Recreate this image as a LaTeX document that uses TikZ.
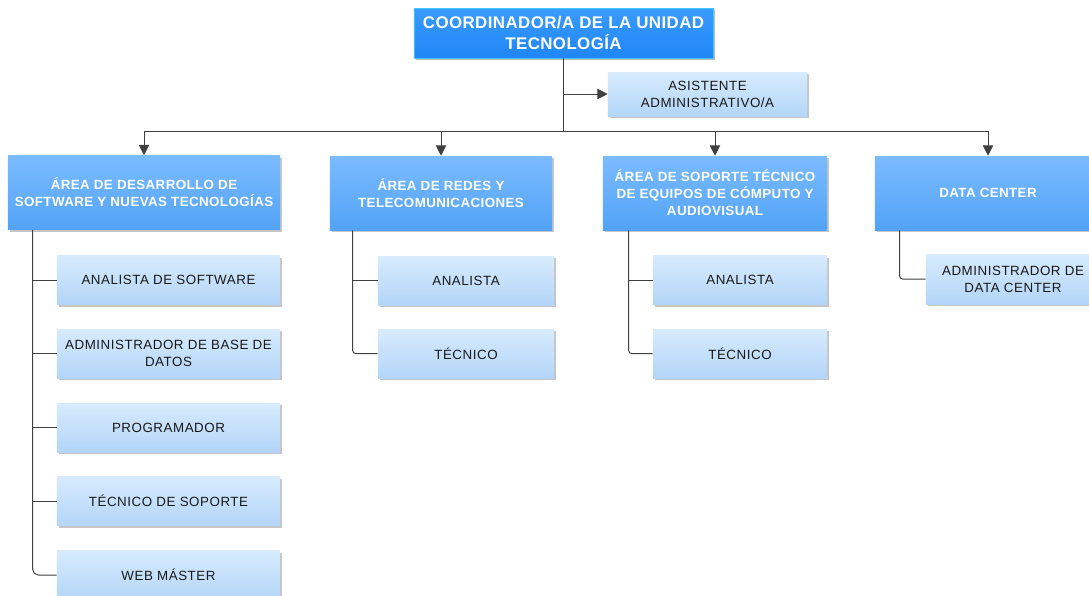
\documentclass[tikz,border=0pt]{standalone}
\usepackage{fontspec}
\setmainfont{Liberation Sans}
\usepackage{tikz}
\usetikzlibrary{arrows.meta, positioning, shadows}

\definecolor{bossTop}{HTML}{3A9BFF}
\definecolor{bossBot}{HTML}{1F86F5}
\definecolor{bossLine}{HTML}{3CC8FF}
\definecolor{areaTop}{HTML}{7BBBFF}
\definecolor{areaBot}{HTML}{52A3F7}
\definecolor{staffTop}{HTML}{D7EBFD}
\definecolor{staffBot}{HTML}{B3D5F8}
\definecolor{lineGray}{HTML}{404040}

\begin{document}
\begin{tikzpicture}[x=0.025cm, y=-0.025cm,
  boss/.style={rectangle, draw=bossLine, top color=bossTop, bottom color=bossBot, minimum width=7.475cm, minimum height=1.25cm, align=center, text=white, font=\fontsize{12}{15.5}\selectfont\bfseries\addfontfeature{LetterSpace=2.5}, drop shadow={shadow xshift=1.6pt, shadow yshift=-1.6pt, fill=black!45, opacity=0.6}},
  area/.style={rectangle, draw=none, top color=areaTop, bottom color=areaBot, minimum height=1.85cm, align=center, text=white, font=\fontsize{9.5}{12}\selectfont\bfseries\addfontfeature{LetterSpace=3}, drop shadow={shadow xshift=1.6pt, shadow yshift=-1.6pt, fill=black!45, opacity=0.5}},
  staff/.style={rectangle, draw=none, top color=staffTop, bottom color=staffBot, minimum height=1.225cm, align=center, text=black!90, font=\fontsize{9.5}{12}\selectfont\addfontfeature{LetterSpace=4}, drop shadow={shadow xshift=1.6pt, shadow yshift=-1.6pt, fill=black!45, opacity=0.5}},
  line/.style={draw=lineGray, line width=0.7pt},
  arr/.style={line, -{Triangle[length=2.6mm, width=2.6mm]}},
]
\useasboundingbox (0,0) rectangle (1089,595);
\clip (0,0) rectangle (1089,595);

% === Top: coordinator and assistant ===
\node[boss] (coord) at (563.5,33) {COORDINADOR/A DE LA UNIDAD\\TECNOLOGÍA};
\node[staff, minimum width=4.975cm, minimum height=1.1cm] (asist) at (707.5,94) {ASISTENTE\\ADMINISTRATIVO/A};

% === Areas ===
\node[area, minimum width=6.8cm] (dev) at (144,192.5) {ÁREA DE DESARROLLO DE\\SOFTWARE Y NUEVAS TECNOLOGÍAS};
\node[area, minimum width=5.55cm] (net) at (441,193) {ÁREA DE REDES Y\\TELECOMUNICACIONES};
\node[area, minimum width=5.6cm] (sup) at (715,193) {ÁREA DE SOPORTE TÉCNICO\\DE EQUIPOS DE CÓMPUTO Y\\AUDIOVISUAL};
\node[area, minimum width=5.65cm] (dc) at (988,193) {DATA CENTER};

% === Staff under each area ===
\node[staff, minimum width=5.575cm] (dev1) at (168.5,280) {ANALISTA DE SOFTWARE};
\node[staff, minimum width=5.575cm] (dev2) at (168.5,353.5) {ADMINISTRADOR DE BASE DE\\DATOS};
\node[staff, minimum width=5.575cm] (dev3) at (168.5,427.5) {PROGRAMADOR};
\node[staff, minimum width=5.575cm] (dev4) at (168.5,501) {TÉCNICO DE SOPORTE};
\node[staff, minimum width=5.575cm] (dev5) at (168.5,575) {WEB MÁSTER};

\node[staff, minimum width=4.4cm] (net1) at (466,280.5) {ANALISTA};
\node[staff, minimum width=4.4cm] (net2) at (466,353.5) {TÉCNICO};

\node[staff, minimum width=4.35cm] (sup1) at (740,280) {ANALISTA};
\node[staff, minimum width=4.35cm] (sup2) at (740,353.5) {TÉCNICO};

\node[staff, minimum width=4.35cm, minimum height=1.25cm] (dc1) at (1013,279) {ADMINISTRADOR DE\\DATA CENTER};

% === Connectors ===
\coordinate (bus) at (563.5,131);
\draw[line] (coord) -- (bus);
\draw[arr] (coord.south |- asist) -- (asist.west);
\draw[line] (dev.north |- bus) -- (dc.north |- bus);
\draw[arr] (dev.north |- bus) -- (dev.north);
\draw[arr] (net.north |- bus) -- (net.north);
\draw[arr] (sup.north |- bus) -- (sup.north);
\draw[arr] (dc.north |- bus) -- (dc.north);

% spines down the left side of each area
\coordinate (devsp) at ([xshift=0.625cm]dev.south west);
\coordinate (netsp) at ([xshift=0.575cm]net.south west);
\coordinate (supsp) at ([xshift=0.65cm]sup.south west);
\coordinate (dcsp) at ([xshift=0.625cm]dc.south west);

\draw[line] (devsp |- dev1.west) -- (dev1.west);
\draw[line] (devsp |- dev2.west) -- (dev2.west);
\draw[line] (devsp |- dev3.west) -- (dev3.west);
\draw[line] (devsp |- dev4.west) -- (dev4.west);
\draw[line, rounded corners=4pt] (devsp) |- (dev5.west);

\draw[line] (netsp |- net1.west) -- (net1.west);
\draw[line, rounded corners=2pt] (netsp) |- (net2.west);

\draw[line] (supsp |- sup1.west) -- (sup1.west);
\draw[line, rounded corners=2pt] (supsp) |- (sup2.west);

\draw[line, rounded corners=2pt] (dcsp) |- (dc1.west);
\end{tikzpicture}
\end{document}
